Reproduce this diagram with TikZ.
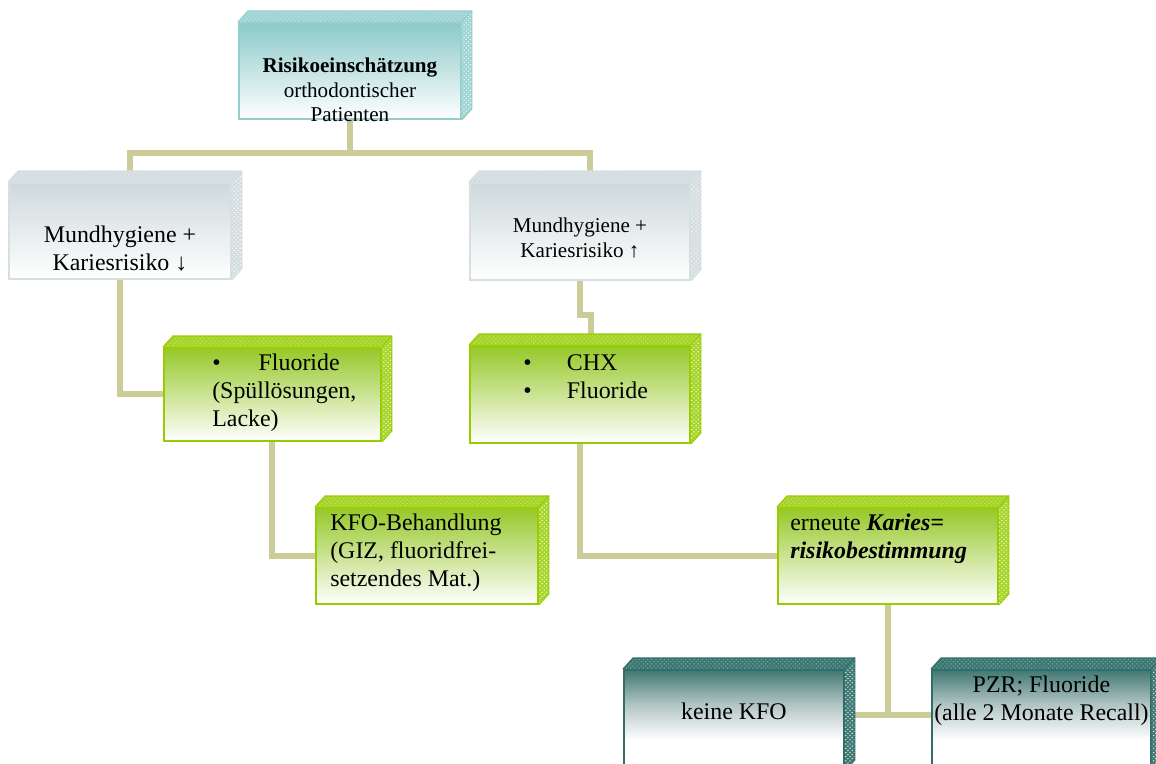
\documentclass[tikz,border=0pt]{standalone}
\usepackage{fontspec}
\setmainfont{Liberation Serif}
\usetikzlibrary{calc,patterns,backgrounds}
\definecolor{linekhaki}{RGB}{204,204,153}
\definecolor{aquaedge}{RGB}{150,206,206}
\definecolor{aquatop}{RGB}{140,201,201}
\definecolor{aquaface}{RGB}{160,212,212}
\definecolor{mistedge}{RGB}{214,223,226}
\definecolor{misttop}{RGB}{206,217,220}
\definecolor{mistface}{RGB}{212,221,223}
\definecolor{leafedge}{RGB}{153,204,0}
\definecolor{leaftop}{RGB}{150,200,40}
\definecolor{leafface}{RGB}{166,212,40}
\definecolor{slateedge}{RGB}{50,110,105}
\definecolor{slatetop}{RGB}{66,120,115}
\definecolor{slatemid}{RGB}{176,196,194}
\definecolor{slateface}{RGB}{62,120,115}
\pgfdeclareverticalshading{slatefade}{100bp}{color(0bp)=(white); color(25bp)=(white);
  color(40bp)=(white); color(58bp)=(slatemid); color(75bp)=(slatetop); color(100bp)=(slatetop)}
\tikzset{
  cube/.style={draw,line width=1.3pt,anchor=north west,inner sep=0pt},
  aquabox/.style={cube,draw=aquaedge,top color=aquatop,bottom color=white},
  mistbox/.style={cube,draw=mistedge,top color=misttop,bottom color=white},
  leafbox/.style={cube,draw=leafedge,top color=leaftop,bottom color=white},
  slatebox/.style={cube,draw=slateedge,shading=slatefade},
  bigtext/.style={inner sep=0pt,font=\fontsize{17}{20}\selectfont},
  smalltext/.style={inner sep=0pt,font=\fontsize{15}{17.5}\selectfont},
  link/.style={draw=linekhaki,line width=4.3pt}
}
% top and side face of a box: node, face colour, edge colour
\newcommand{\cubesides}[3]{%
  \fill[#2] (#1.north west) -- ++(10,-11) -- ($(#1.north east)+(10,-11)$) -- (#1.north east) -- cycle;
  \fill[#2] (#1.north east) -- ++(10,-11) -- ($(#1.south east)+(10,-11)$) -- (#1.south east) -- cycle;
  \fill[pattern=crosshatch dots,pattern color=white,opacity=.35] (#1.north west) -- ++(10,-11) -- ($(#1.north east)+(10,-11)$) -- (#1.north east) -- cycle;
  \fill[pattern=crosshatch dots,pattern color=white] (#1.north east) -- ++(10,-11) -- ($(#1.south east)+(10,-11)$) -- (#1.south east) -- cycle;
  \draw[#3,line width=.8pt] (#1.north west) -- ++(10,-11) -- ($(#1.north east)+(10,-11)$) -- ($(#1.south east)+(10,-11)$) -- (#1.south east);
  \draw[#3,line width=.8pt] (#1.north east) -- ++(10,-11);
}

\begin{document}
\begin{tikzpicture}[x=0.025cm,y=-0.025cm]
  \path[use as bounding box] (0,0) rectangle (1156,763);
  \node[aquabox,minimum width=5.55cm,minimum height=2.4cm] (risk) at (238,22) {};
  \node[mistbox,minimum width=5.55cm,minimum height=2.4cm] (hygLo) at (8,182) {};
  \node[mistbox,minimum width=5.5cm,minimum height=2.425cm] (hygHi) at (469,182) {};
  \node[leafbox,minimum width=5.425cm,minimum height=2.325cm] (fluor) at (163,347) {};
  \node[leafbox,minimum width=5.5cm,minimum height=2.425cm] (chx) at (469,345) {};
  \node[leafbox,minimum width=5.55cm,minimum height=2.4cm] (kfo) at (315,507) {};
  \node[leafbox,minimum width=5.5cm,minimum height=2.4cm] (recheck) at (777,507) {};
  \node[slatebox,minimum width=5.5cm,minimum height=2.5cm] (nokfo) at (623,669) {};
  \node[slatebox,minimum width=5.475cm,minimum height=2.5cm] (pzr) at (931,669) {};

  \cubesides{risk}{aquaface}{aquaedge}
  \cubesides{hygLo}{mistface}{mistedge}
  \cubesides{hygHi}{mistface}{mistedge}
  \foreach \n in {fluor,chx,kfo,recheck}{\cubesides{\n}{leafface}{leafedge}}
  \cubesides{nokfo}{slateface}{slateedge}
  \cubesides{pzr}{slateface}{slateedge}

  \node[smalltext,align=center,anchor=north] (riskT) at ($(risk.north)+(0,35.5)$)
    {\textbf{Risikoeinschätzung}\\orthodontischer\\Patienten};
  \node[bigtext,align=center,anchor=north] (hygLoT) at ($(hygLo.north)+(0,43.5)$)
    {Mundhygiene +\\Kariesrisiko ↓};
  \node[smalltext,align=center,anchor=north] (hygHiT) at ($(hygHi.north)+(0,35.5)$)
    {Mundhygiene +\\Kariesrisiko ↑};
  \node[bigtext,align=left,anchor=north west] (fluorT) at ($(fluor.north west)+(49,6.5)$)
    {\makebox[33pt][l]{\textbullet}Fluoride\\(Spüllösungen,\\Lacke)};
  \node[bigtext,align=left,anchor=north west] (chxT) at ($(chx.north west)+(54,9)$)
    {\makebox[31pt][l]{\textbullet}CHX\\\makebox[31pt][l]{\textbullet}Fluoride};
  \node[bigtext,align=left,anchor=north west] (kfoT) at ($(kfo.north west)+(15,6.7)$)
    {KFO-Behandlung\\(GIZ, fluoridfrei-\\setzendes Mat.)};
  \node[bigtext,align=left,anchor=north west] (recheckT) at ($(recheck.north west)+(13,6.7)$)
    {erneute \textbf{\textit{Karies=}}\\\textbf{\textit{risikobestimmung}}};
  \node[bigtext,anchor=north] (nokfoT) at ($(nokfo.north)+(0,33.7)$) {keine KFO};
  \node[bigtext,align=center,anchor=north] (pzrT) at ($(pzr.north)+(0,6.7)$)
    {PZR; Fluoride\\(alle 2 Monate Recall)};

  \begin{scope}[on background layer]
    \fill[white] (0,0) rectangle (1156,763);
    \coordinate (rootJ) at ($(risk.south)+(0,33)$);
    \draw[link] (risk.south) -- (rootJ);
    \draw[link] ($(hygLo.north)+(10,0)$) |- (rootJ) -| ($(hygHi.north)+(10,0)$);
    \draw[link] (hygLo.south) |- (fluor.west);
    \draw[link] (hygHi.south) -- ++(0,34) -| ($(chx.north)+(11,0)$);
    \draw[link] (fluor.south) |- (kfo.west);
    \draw[link] (chx.south) |- (recheck.west);
    \coordinate (recJ) at ($(recheck.south)+(0,110)$);
    \draw[link] (recheck.south) -- (recJ);
    \draw[link] (recJ -| nokfo.east) -- (recJ -| pzr.west);
  \end{scope}
\end{tikzpicture}
\end{document}
